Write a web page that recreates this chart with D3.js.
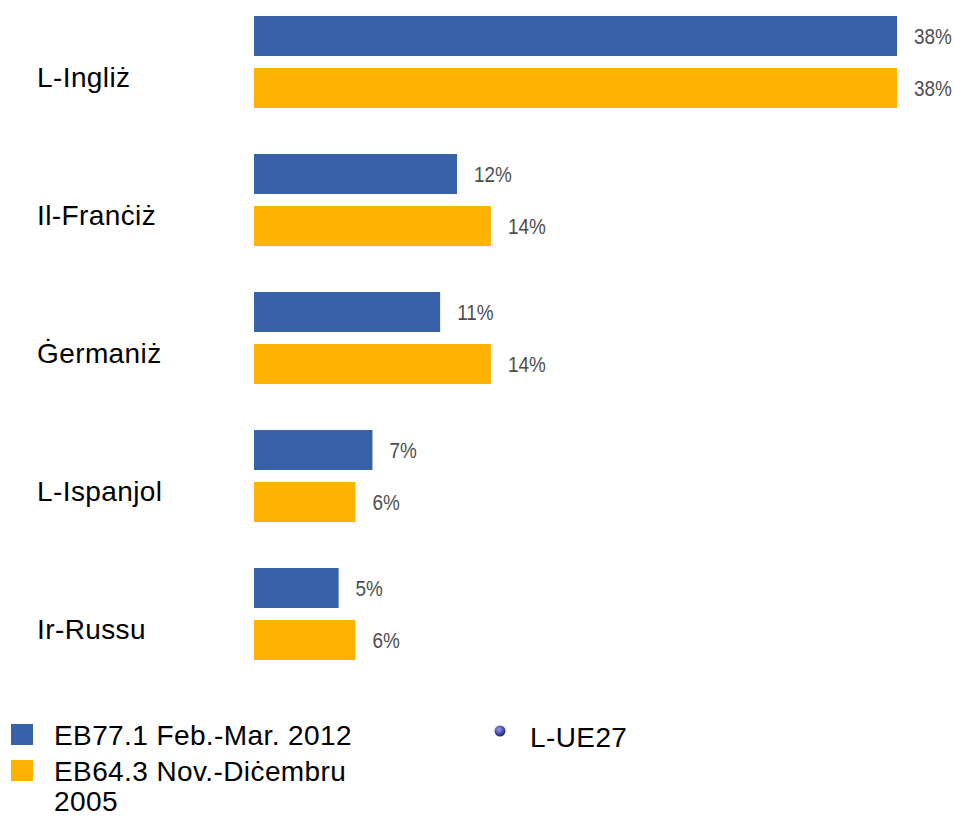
<!DOCTYPE html>
<html>
<head>
<meta charset="utf-8">
<script src="https://cdn.jsdelivr.net/npm/d3@7"></script>
<style>
  body { margin: 0; background: #fff; }
  text { font-family: "Liberation Sans", Arial, sans-serif; }
</style>
</head>
<body>
<svg id="chart" width="955" height="816"></svg>
<script>
var categories = ["L-Ingliż", "Il-Franċiż", "Ġermaniż", "L-Ispanjol", "Ir-Russu"];
var series = ["EB77.1 Feb.-Mar. 2012", "EB64.3 Nov.-Diċembru 2005"];
var values2012 = [38, 12, 11, 7, 5];
var values2005 = [38, 14, 14, 6, 6];
var colors = ["#3762aa", "#ffb200"];

var svg = d3.select("#chart");

var data = categories.map(function(c, i) {
  return {cat: c, vals: [values2012[i], values2005[i]]};
});

var x = d3.scaleLinear()
    .domain([0, 38])
    .range([254, 897]);

var y0 = d3.scaleBand()
    .domain(categories)
    .range([16, 660])
    .paddingInner(1 / 3)
    .paddingOuter(0);

var y1 = d3.scaleBand()
    .domain(series)
    .range([0, y0.bandwidth()])
    .paddingInner(12 / 52);

var groups = svg.append("g").selectAll("g")
    .data(data)
  .enter().append("g")
    .attr("transform", function(d) { return "translate(0," + y0(d.cat) + ")"; });

groups.append("text")
    .attr("x", 37)
    .attr("y", y0.bandwidth() / 2 + 25)
    .attr("font-size", 28)
    .attr("letter-spacing", 0.4)
    .attr("fill", "#000")
    .text(function(d) { return d.cat; });

var bars = groups.selectAll("g.bar")
    .data(function(d) { return d.vals.map(function(v, j) { return {s: series[j], v: v, j: j}; }); })
  .enter().append("g")
    .attr("class", "bar");

bars.append("rect")
    .attr("x", x(0))
    .attr("y", function(d) { return y1(d.s); })
    .attr("width", function(d) { return x(d.v) - x(0); })
    .attr("height", y1.bandwidth())
    .attr("fill", function(d) { return colors[d.j]; });

// narrow-looking value labels
bars.append("text")
    .attr("transform", function(d) {
      return "translate(" + (x(d.v) + 17) + "," + (y1(d.s) + y1.bandwidth() / 2) + ") scale(0.86,1)";
    })
    .attr("dy", "0.35em")
    .attr("font-size", 22)
    .attr("fill", "#4d4d4d")
    .text(function(d) { return d.v + "%"; });

// legend
var legend = svg.append("g");
var legendRows = [["EB77.1 Feb.-Mar. 2012"], ["EB64.3 Nov.-Diċembru", "2005"]];
var rowTop = [724, 760];
var lg = legend.selectAll("g")
    .data(legendRows)
  .enter().append("g")
    .attr("transform", function(d, i) { return "translate(0," + rowTop[i] + ")"; });

lg.append("rect")
    .attr("x", 11)
    .attr("width", 22)
    .attr("height", 21)
    .attr("fill", function(d, i) { return colors[i]; });

lg.append("text")
    .attr("font-size", 28)
    .attr("letter-spacing", 0.4)
    .attr("fill", "#000")
    .selectAll("tspan")
    .data(function(d) { return d; })
  .enter().append("tspan")
    .attr("x", 54)
    .attr("y", function(d, k) { return 21 + k * 30; })
    .text(function(d) { return d; });

var defs = svg.append("defs");
var grad = defs.append("radialGradient")
    .attr("id", "dotGrad")
    .attr("cx", "40%").attr("cy", "35%").attr("r", "60%");
grad.append("stop").attr("offset", "0%").attr("stop-color", "#9a9ee8");
grad.append("stop").attr("offset", "100%").attr("stop-color", "#23288a");

legend.append("circle")
    .attr("cx", 500)
    .attr("cy", 731)
    .attr("r", 5.5)
    .attr("fill", "url(#dotGrad)");

legend.append("text")
    .attr("x", 530)
    .attr("y", 747)
    .attr("font-size", 28)
    .attr("letter-spacing", 0.4)
    .attr("fill", "#000")
    .text("L-UE27");
</script>
</body>
</html>
